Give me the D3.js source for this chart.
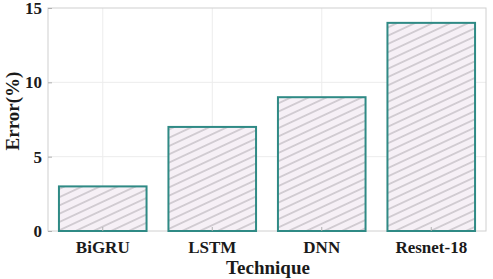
<!DOCTYPE html>
<html>
<head>
<meta charset="utf-8">
<script src="https://cdn.jsdelivr.net/npm/d3@7"></script>
<style>
  body { margin: 0; background: #fff; }
  text { font-family: "Liberation Serif", "Times New Roman", serif; font-weight: bold; }
</style>
</head>
<body>
<svg id="chart"></svg>
<script>
const techniques = ["BiGRU", "LSTM", "DNN", "Resnet-18"];
const errors = [3, 7, 9, 14];
const yTicks = [0, 5, 10, 15];

const width = 493, height = 279;
const margin = { top: 8, right: 7, bottom: 48, left: 48 };
const innerW = width - margin.left - margin.right;
const innerH = height - margin.top - margin.bottom;

const svg = d3.select("#chart").attr("width", width).attr("height", height);

// hatch pattern
const defs = svg.append("defs");
const pat = defs.append("pattern")
    .attr("id", "hatch")
    .attr("patternUnits", "userSpaceOnUse")
    .attr("width", 7.5).attr("height", 7.5)
    .attr("patternTransform", "rotate(-25)");
pat.append("rect").attr("width", 7.5).attr("height", 7.5).attr("fill", "#f6f0f6");
pat.append("line")
    .attr("x1", 0).attr("y1", 3.75).attr("x2", 7.5).attr("y2", 3.75)
    .attr("stroke", "#a9a4aa").attr("stroke-width", 0.9);

const g = svg.append("g").attr("transform", `translate(${margin.left},${margin.top})`);

const x = d3.scaleBand().domain(techniques).range([0, innerW]).paddingInner(0.2).paddingOuter(0.1);
const y = d3.scaleLinear().domain([0, 15]).range([innerH, 0]);

// grid
g.selectAll(".vgrid")
    .data(techniques)
    .join("line")
    .attr("x1", d => x(d) + x.bandwidth() / 2)
    .attr("x2", d => x(d) + x.bandwidth() / 2)
    .attr("y1", 0).attr("y2", innerH)
    .attr("stroke", "#ececec").attr("stroke-width", 1);

g.selectAll(".hgrid")
    .data(yTicks.slice(1, -1))
    .join("line")
    .attr("x1", 0).attr("x2", innerW)
    .attr("y1", d => y(d)).attr("y2", d => y(d))
    .attr("stroke", "#ececec").attr("stroke-width", 1);

// box
g.append("rect")
    .attr("width", innerW).attr("height", innerH)
    .attr("fill", "none").attr("stroke", "#d0d0d0").attr("stroke-width", 1);

// bars
g.selectAll(".bar")
    .data(errors)
    .join("rect")
    .attr("x", (d, i) => x(techniques[i]))
    .attr("y", d => y(d))
    .attr("width", x.bandwidth())
    .attr("height", d => innerH - y(d))
    .attr("fill", "url(#hatch)")
    .attr("stroke", "#2f8a85")
    .attr("stroke-width", 2);

// axes
const yAxis = d3.axisLeft(y).tickValues(yTicks).tickSize(-4).tickPadding(6);
const ya = g.append("g").call(yAxis);
ya.select(".domain").remove();
ya.selectAll("line").attr("stroke", "#b0b0b0");
ya.selectAll("text").style("font-size", "17px").attr("fill", "#1a1a1a");

const xAxis = d3.axisBottom(x).tickSize(-4).tickPadding(10);
const xa = g.append("g").attr("transform", `translate(0,${innerH})`).call(xAxis);
xa.select(".domain").remove();
xa.selectAll("line").attr("stroke", "#b0b0b0");
xa.selectAll("text").style("font-size", "17px").attr("fill", "#1a1a1a");

// labels
svg.append("text")
    .attr("x", margin.left + innerW / 2 + 1)
    .attr("y", 274)
    .attr("text-anchor", "middle")
    .style("font-size", "19px")
    .attr("fill", "#1a1a1a")
    .text("Technique");

svg.append("text")
    .attr("transform", `translate(19,111) rotate(-90)`)
    .attr("text-anchor", "middle")
    .style("font-size", "19px")
    .attr("fill", "#1a1a1a")
    .text("Error(%)");
</script>
</body>
</html>
